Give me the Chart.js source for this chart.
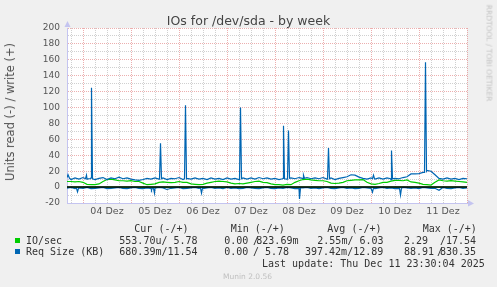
<!DOCTYPE html>
<html>
<head>
<meta charset="utf-8">
<script src="https://cdn.jsdelivr.net/npm/chart.js"></script>
<style>
  body { margin: 0; background: #f0f0f0; }
  #wrap { position: relative; width: 497px; height: 287px; overflow: hidden; font-family: "DejaVu Sans", sans-serif; }
  #chart { position: absolute; left: 0; top: 0; }
  .t { position: absolute; white-space: pre; }
  .mono { font-family: "DejaVu Sans Mono", monospace; font-size: 10px; line-height: 12px; color: #333; }
  .sq { position: absolute; width: 5px; height: 5px; }
</style>
</head>
<body>
<div id="wrap">
  <canvas id="chart" width="497" height="287"></canvas>

  <div class="t" style="left:0;width:497px;text-align:center;top:12.5px;font-size:12.5px;line-height:15px;color:#444;">IOs for /dev/sda - by week</div>
  <div class="t" style="left:10px;top:112px;font-size:11.5px;line-height:14px;color:#555;transform:translate(-50%,-50%) rotate(-90deg);">Units read (-) / write (+)</div>
  <div class="t" style="left:489px;top:53px;font-size:7.5px;line-height:9px;color:#c4c4c4;transform:translate(-50%,-50%) rotate(90deg);">RRDTOOL / TOBI OETIKER</div>

  <!-- legend -->
  <div class="t mono" style="left:134.3px;top:222.5px;">Cur (-/+)</div>
  <div class="t mono" style="left:230.7px;top:222.5px;">Min (-/+)</div>
  <div class="t mono" style="left:327.3px;top:222.5px;">Avg (-/+)</div>
  <div class="t mono" style="left:422.7px;top:222.5px;">Max (-/+)</div>

  <div class="sq" style="left:14.5px;top:237.5px;background:#00cc00;"></div>
  <div class="t mono" style="left:26px;top:234.5px;">IO/sec</div>
  <div class="t mono" style="left:119.3px;top:234.5px;">553.70u/ 5.78</div>
  <div class="t mono" style="left:224.3px;top:234.5px;">0.00</div>
  <div class="t mono" style="left:253px;top:234.5px;">/</div>
  <div class="t mono" style="left:256.3px;top:234.5px;">823.69m</div>
  <div class="t mono" style="left:317.3px;top:234.5px;">2.55m/ 6.03</div>
  <div class="t mono" style="left:404px;top:234.5px;">2.29</div>
  <div class="t mono" style="left:440px;top:234.5px;">/17.54</div>

  <div class="sq" style="left:14.5px;top:249.3px;background:#0066b3;"></div>
  <div class="t mono" style="left:26px;top:246.2px;">Req Size (KB)</div>
  <div class="t mono" style="left:119.3px;top:246.2px;">680.39m/11.54</div>
  <div class="t mono" style="left:224.3px;top:246.2px;">0.00</div>
  <div class="t mono" style="left:253px;top:246.2px;">/ 5.78</div>
  <div class="t mono" style="left:305px;top:246.2px;">397.42m/12.89</div>
  <div class="t mono" style="left:404px;top:246.2px;">88.91</div>
  <div class="t mono" style="left:437px;top:246.2px;">/</div>
  <div class="t mono" style="left:440px;top:246.2px;">830.35</div>

  <div class="t mono" style="left:262px;top:258.2px;">Last update: Thu Dec 11 23:30:04 2025</div>
  <div class="t" style="left:223px;top:271.6px;font-size:7.5px;line-height:9px;color:#c0c0c0;">Munin 2.0.56</div>
</div>

<script>
// hours counted from 03 Dez 00:00, one sample every 2 hours
const startHour = 16;
const stepHours = 2;

// day labels sit at noon
const dayLabels = ["04 Dez", "05 Dez", "06 Dez", "07 Dez", "08 Dez", "09 Dez", "10 Dez", "11 Dez"];
const dayNoonHours = [36, 60, 84, 108, 132, 156, 180, 204];

const yTickValues = [-20, -10, 0, 10, 20, 30, 40, 50, 60, 70, 80, 90, 100,
                     110, 120, 130, 140, 150, 160, 170, 180, 190, 200];

// IO/sec write (+)
const ioWrite = [
  7, 7, 6.5, 7, 6, 3.5, 3, 3, 4, 7, 9.5, 10,
  9, 8, 8, 7.5, 8, 7, 7, 5, 3, 3.5, 4,
  6, 6.5, 6, 5.5, 6, 7, 6, 6, 4, 3.5, 3, 3.5,
  5, 6, 7, 7.5, 7, 6.5, 5, 4, 4.5, 4, 5,
  6, 7, 7.5, 6, 5.5, 4, 3, 3, 2.5, 3.5, 3,
  6, 8, 9.5, 10, 9, 8.5, 8, 8, 7, 5, 4.5, 5, 6,
  8, 8.5, 9, 9, 9.5, 6, 4, 3.5, 4.5,
  6, 6, 7.5, 8.5, 8.5, 8, 9, 6.5, 6, 5, 3.5, 3, 2.5,
  6, 9, 8, 7.5, 8, 7.5, 7, 6.5, 6
];

// IO/sec read (-), flat at zero
const ioReadHours = [16, 64, 112, 160, 216];
const ioRead = [0, 0, 0, 0, 0];

// Req Size write (+)
const reqWrite = [
  12, 9.5, 11.5, 10, 12, 10, 11.5, 9.5, 11, 12, 9.5, 11.5,
  10.5, 12.5, 10.5, 11.5, 10, 9, 8.5, 9.5, 11, 10, 11.5,
  10, 11.5, 9.5, 11, 10.5, 12, 9.5, 11,
  10, 11.5, 10, 11, 9.5, 11.5, 10, 11, 9.5, 11.5,
  10, 11, 9.5, 11.5, 10, 11.5, 10, 12, 10.5, 11.5, 10,
  11, 9.5, 11, 10, 11.5, 10.5, 12, 11, 12, 10.5, 11.5, 10.5, 12,
  10, 11.5, 9.5, 11, 12, 13, 15.5, 15, 12.5, 11,
  10, 11.5, 10, 11.5, 10, 11.5, 9.5, 11, 10.5,
  12, 13, 16.5, 16.5, 17, 18.5, 21, 20, 15.5, 11,
  10, 11.5, 10, 11, 9.5, 11, 10.5
];
// short peaks between the 2-hour samples
const reqWriteExtraHours = [16.5, 17.25, 25.25, 25.75, 26.25, 27.75, 28.25, 28.75,
  62.25, 62.75, 63.25, 74.75, 75.25, 75.75, 102.25, 102.75, 103.25,
  123.75, 124.25, 124.75, 126.25, 126.75, 127.25, 133.75, 134.25, 134.75,
  146.25, 146.75, 147.25, 168.75, 169.25, 169.75, 177.75, 178.25, 178.75,
  194.75, 195.25, 195.75];
const reqWriteExtraValues = [15.5, 11, 10.5, 15, 10.5, 10.5, 125, 10.5,
  10.5, 55, 10.5, 10.5, 103, 10.5, 10.5, 100, 10.5,
  10.5, 77, 10.5, 10.5, 71, 11, 11, 15, 11,
  10.5, 49, 10.5, 10.5, 15, 10.5, 10.5, 46, 10.5,
  18.5, 157, 20];

// Req Size read (-)
const reqRead = [
  -1.5, -0.5, -2, -1, -1.5, -0.5, -2, -1.5, -1, -0.5,
  -2, -1.5, -1, -0.5, -1.5, -2, -1, -0.5, -1.5, -2,
  -1, -1.5, -1.5, -0.5, -1, -3, -1.5, -1, -0.5, -2,
  -1.5, -1, -0.5, -1.5, -2, -1, -0.5, -1.5, -1, -2,
  -0.5, -1.5, -1, -2, -1.5, -0.5, -1, -1.5, -2, -1,
  -0.5, -1.5, -2, -1, -1.5, -0.5, -1, -2, -1.5, -1,
  -0.5, -1.5, -1, -2, -1, -0.5, -1.5, -2, -1, -0.5,
  -1.5, -1, -2, -1.5, -0.5, -1, -1.5, -2, -1, -0.5,
  -1.5, -1, -2, -1.5, -0.5, -1, -1.5, -1, -2, -0.5,
  -1, -1.5, -1.5, -4, -0.5, -1.5, -2, -1, -0.5, -1.5,
  -1
];
const reqReadExtraHours = [20.75, 21.25, 21.75, 57.75, 58.25, 58.75, 59.25, 59.75,
  82.75, 83.25, 83.75, 131.75, 132.25, 132.75, 168.25, 168.75, 169.25,
  182.25, 182.75, 183.25];
const reqReadExtraValues = [-1.5, -6, -1.5, -1.5, -3.5, -1, -1.5, -7.5,
  -1, -7.5, -1, -1.5, -15, -1, -1.5, -6.5, -1, -1, -10, -1.5];

const zeroRule = 0;

const green = "#00cc00";
const blue = "#0066b3";
const axisColor = "#c4c4f0";
const majorGrid = "rgba(220,110,110,0.55)";
const minorGrid = "rgba(170,170,170,0.55)";

function buildSeries(values, extraHours, extraValues) {
  const pts = values.map((v, i) => ({ x: startHour + i * stepHours, y: v }));
  (extraHours || []).forEach((h, i) => pts.push({ x: h, y: extraValues[i] }));
  pts.sort((a, b) => a.x - b.x);
  return pts;
}

const plotBackground = {
  id: "plotBackground",
  beforeDraw(chart) {
    const { ctx, chartArea: a } = chart;
    ctx.save();
    ctx.fillStyle = "#ffffff";
    ctx.fillRect(a.left, a.top, a.right - a.left, a.bottom - a.top);
    ctx.restore();
  }
};

// little arrow heads at the ends of the axes
const axisArrows = {
  id: "axisArrows",
  afterDraw(chart) {
    const { ctx, chartArea: a } = chart;
    ctx.save();
    ctx.fillStyle = axisColor;
    ctx.beginPath();
    ctx.moveTo(a.left - 2.5, a.top - 1);
    ctx.lineTo(a.left + 3.5, a.top - 1);
    ctx.lineTo(a.left + 0.5, a.top - 7);
    ctx.fill();
    ctx.beginPath();
    ctx.moveTo(a.right + 1, a.bottom - 3);
    ctx.lineTo(a.right + 1, a.bottom + 3.5);
    ctx.lineTo(a.right + 7, a.bottom + 0.5);
    ctx.fill();
    ctx.restore();
  }
};

new Chart(document.getElementById("chart"), {
  type: "line",
  data: {
    datasets: [
      {
        label: "zero",
        data: [{ x: startHour, y: zeroRule }, { x: 216, y: zeroRule }],
        borderColor: "#000000",
        borderWidth: 1.5,
        order: 0
      },
      {
        label: "Req Size write",
        data: buildSeries(reqWrite, reqWriteExtraHours, reqWriteExtraValues),
        borderColor: blue,
        borderWidth: 1.2,
        order: 1
      },
      {
        label: "Req Size read",
        data: buildSeries(reqRead, reqReadExtraHours, reqReadExtraValues),
        borderColor: blue,
        borderWidth: 1.2,
        order: 2
      },
      {
        label: "IO/sec write",
        data: buildSeries(ioWrite),
        borderColor: green,
        borderWidth: 1.2,
        order: 3
      },
      {
        label: "IO/sec read",
        data: ioReadHours.map((h, i) => ({ x: h, y: ioRead[i] })),
        borderColor: green,
        borderWidth: 1.2,
        order: 4
      }
    ]
  },
  options: {
    responsive: false,
    animation: false,
    events: [],
    layout: { padding: { left: 0, top: 28, right: 30, bottom: 64 } },
    elements: { point: { radius: 0 }, line: { tension: 0 } },
    plugins: { legend: { display: false }, tooltip: { enabled: false } },
    scales: {
      x: {
        type: "linear",
        min: 16,
        max: 216,
        afterFit: s => { s.height = 20; },
        afterBuildTicks: axis => {
          const t = [];
          for (let h = 18; h <= 216; h += 6) t.push({ value: h });
          axis.ticks = t;
        },
        ticks: {
          autoSkip: false,
          maxRotation: 0,
          padding: 3,
          color: "#555",
          font: { family: "DejaVu Sans", size: 9.5 },
          callback: v => {
            const i = dayNoonHours.indexOf(v);
            return i >= 0 ? dayLabels[i] : "";
          }
        },
        grid: {
          drawTicks: false,
          color: c => (c.tick && c.tick.value % 24 === 0 ? majorGrid : minorGrid),
          lineWidth: 1
        },
        border: { display: true, color: axisColor, width: 1, dash: [1, 1] }
      },
      y: {
        min: -20,
        max: 200,
        afterFit: s => { s.width = 67; },
        afterBuildTicks: axis => {
          axis.ticks = yTickValues.map(v => ({ value: v }));
        },
        ticks: {
          autoSkip: false,
          padding: 7,
          color: "#555",
          font: { family: "DejaVu Sans", size: 9 },
          callback: v => (v % 20 === 0 ? String(v) : "")
        },
        grid: {
          drawTicks: false,
          color: c => (c.tick && c.tick.value % 20 === 0 ? majorGrid : minorGrid),
          lineWidth: 1
        },
        border: { display: true, color: axisColor, width: 1, dash: [1, 1] }
      }
    }
  },
  plugins: [plotBackground, axisArrows]
});
</script>
</body>
</html>
